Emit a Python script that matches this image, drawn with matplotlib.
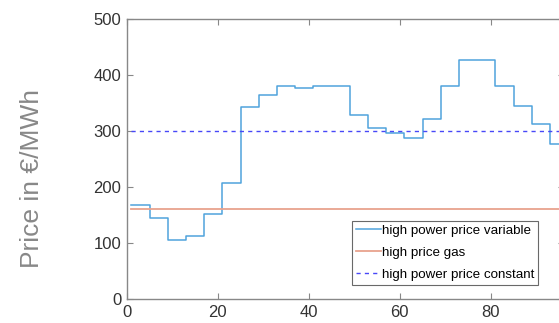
import matplotlib.pyplot as plt

plt.rcParams['font.family'] = ['Liberation Sans', 'DejaVu Sans']

# hourly values, each held for 4 quarter-hours (x = 1..96)
hour_start = [1, 5, 9, 13, 17, 21, 25, 29, 33, 37, 41, 45,
              49, 53, 57, 61, 65, 69, 73, 77, 81, 85, 89, 93]
power_var = [167, 144, 105, 113, 152, 208, 343, 364, 380, 377, 380, 380,
             328, 305, 296, 288, 322, 380, 426, 426, 381, 345, 312, 276]
x_end = 96
gas_price = 160
power_const = 300

x = hour_start + [x_end]
y = power_var + [power_var[-1]]

fig = plt.figure(figsize=(5.59, 3.23), dpi=100)
ax = fig.add_axes([0.2268, 0.0743, 0.7814, 0.8669])

ax.step(x, y, where='post', color='#4FA3DC', lw=1.1, label='high power price variable')
ax.plot([1, x_end], [gas_price, gas_price], color='#E8A38E', lw=1.3, label='high price gas')
ax.plot([1, x_end], [power_const, power_const], color='#4848F8', lw=1.0,
        linestyle=(0, (3, 3)), label='high power price constant')

ax.set_xlim(0, 96)
ax.set_ylim(0, 500)
ax.set_xticks([0, 20, 40, 60, 80])
ax.set_yticks([0, 100, 200, 300, 400, 500])
ax.tick_params(direction='in', length=4, color='#888888', labelsize=12,
               labelcolor='#333333', top=True, right=True, pad=4)
for s in ax.spines.values():
    s.set_color('#888888')
    s.set_linewidth(1.0)

ax.set_ylabel('Price in €/MWh', fontsize=19, color='#888888')
ax.yaxis.set_label_coords(-0.19, 0.43)

leg = ax.legend(loc='lower left', bbox_to_anchor=(0.5155, 0.05), fontsize=9.6,
                frameon=True, fancybox=False, borderpad=0.3, labelspacing=0.72,
                handlelength=1.9, handletextpad=0.05, borderaxespad=0)
leg.get_frame().set_edgecolor('#444444')
leg.get_frame().set_linewidth(0.8)

fig.savefig('out.png', dpi=100)
